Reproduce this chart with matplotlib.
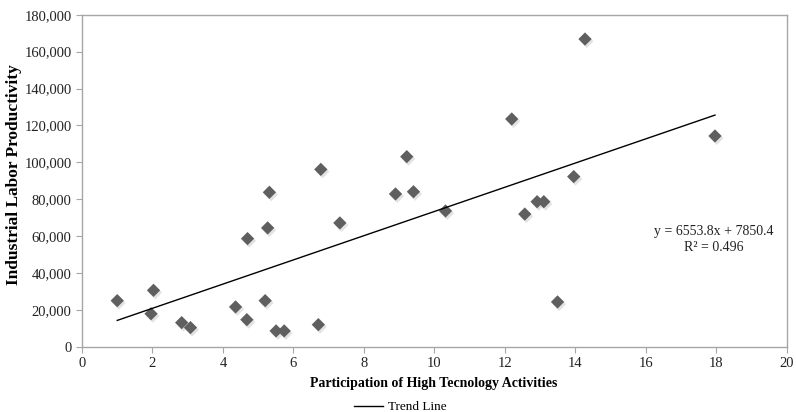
import matplotlib
matplotlib.use("Agg")
import matplotlib.pyplot as plt
import numpy as np
from matplotlib.lines import Line2D

participation = [1.0, 1.96, 2.03, 2.83, 3.08, 4.36, 4.68, 4.70, 5.20, 5.27, 5.32,
                 5.51, 5.74, 6.71, 6.78, 7.32, 8.90, 9.22, 9.41, 10.32, 12.20,
                 12.57, 12.92, 13.11, 13.50, 13.96, 14.28, 17.97]
productivity = [25100, 18000, 30700, 13200, 10500, 21700, 14800, 58700, 25100, 64500, 83800,
                8700, 8700, 12100, 96200, 67200, 82900, 103100, 84100, 73700, 123500,
                72000, 78700, 78700, 24400, 92300, 166800, 114300]
slope = 6553.8
intercept = 7850.4
r_squared = 0.496

plt.rcParams['font.family'] = ['Liberation Serif', 'DejaVu Serif']

W, H = 796, 412
fig = plt.figure(figsize=(W/100, H/100), dpi=100)
ax = fig.add_axes([82/W, 1-347/H, (786.5-82)/W, (347-14.7)/H])

x = np.array(participation)
y = np.array(productivity)
# soft shadow
ax.scatter(x + 0.05, y - 1200, marker='D', s=48, color='#c8c8c8', alpha=0.5,
           edgecolors='none', zorder=2)
ax.scatter(x, y, marker='D', s=46, color='#5f5f5f', edgecolors='none', zorder=3)

xl = np.array([min(participation), max(participation)])
ax.plot(xl, slope * xl + intercept, color='black', lw=1.0, zorder=4)

ax.set_xlim(0, 20)
ax.set_ylim(0, 180000)
ax.set_xticks(np.arange(0, 21, 2))
ax.set_yticks(np.arange(0, 180001, 20000))
ax.set_yticklabels([f"{v:,}" for v in range(0, 180001, 20000)])
for s in ax.spines.values():
    s.set_color('#a6a6a6')
    s.set_linewidth(1.0)
ax.tick_params(direction='out', length=4, color='#a6a6a6', labelsize=10.5, labelcolor='#222222')

fig.text(434/W, 1-383/H, "Participation of High Tecnology Activities", fontsize=10,
         fontweight='bold', ha='center', va='center')
fig.text(14/W, 1-175/H, "Industrial Labor Productivity", fontsize=12.5,
         fontweight='bold', ha='center', va='center', rotation=90)

fig.text(714/W, 1-232/H, f"y = {slope}x + {intercept}",
         ha='center', va='center', fontsize=10, color='#222222')
fig.text(714/W, 1-248/H, f"R² = {r_squared}",
         ha='center', va='center', fontsize=10, color='#222222')

handle = Line2D([], [], color='black', lw=1.0)
fig.legend([handle], ["Trend Line"], loc='center', bbox_to_anchor=(400/W, 1-407/H),
           frameon=False, fontsize=9.5, handlelength=2.2, handletextpad=0.4, borderpad=0)

fig.savefig("out.png", dpi=100)
